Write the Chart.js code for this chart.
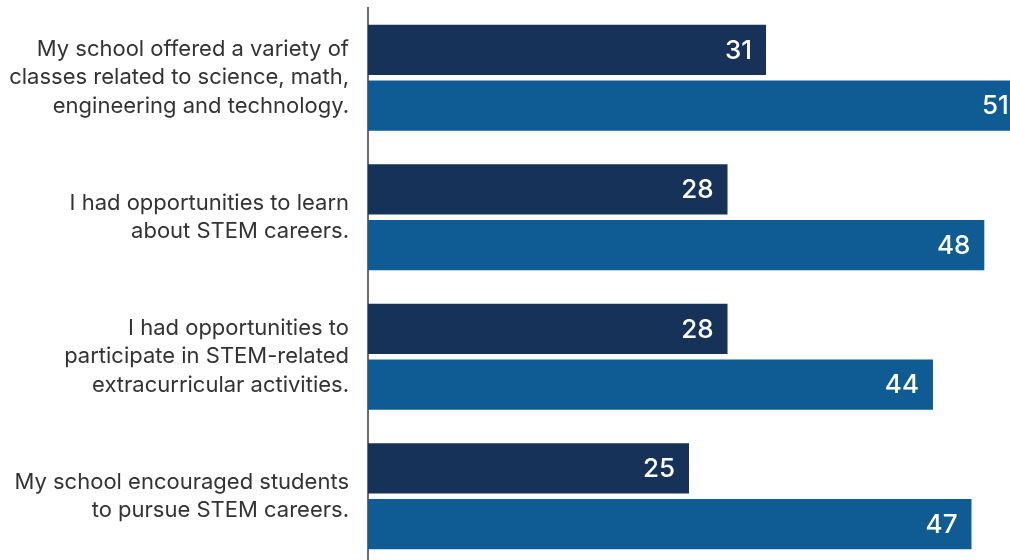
<!DOCTYPE html>
<html>
<head>
<meta charset="utf-8">
<script src="https://cdn.jsdelivr.net/npm/chart.js@4"></script>
<style>
	html, body { margin: 0; padding: 0; background: #fff; overflow: hidden; }
	#wrap { width: 1010px; height: 566px; }
</style>
</head>
<body>
<div id="wrap"><canvas id="chart" width="1010" height="566"></canvas></div>
<script>
const categories = [
	['My school offered a variety of', 'classes related to science, math,', 'engineering and technology.'],
	['I had opportunities to learn', 'about STEM careers.'],
	['I had opportunities to', 'participate in STEM-related', 'extracurricular activities.'],
	['My school encouraged students', 'to pursue STEM careers.'],
];
const seriesA = [31, 28, 28, 25];
const seriesB = [51, 48, 44, 47];

// white value labels just inside the end of each bar
const valueLabels = {
	id: 'valueLabels',
	afterDatasetsDraw(chart) {
		const ctx = chart.ctx;
		ctx.save();
		ctx.fillStyle = '#ffffff';
		ctx.font = '500 26px Inter';
		ctx.textAlign = 'right';
		ctx.textBaseline = 'middle';
		chart.data.datasets.forEach((ds, i) => {
			chart.getDatasetMeta(i).data.forEach((bar, j) => {
				const x = chart.scales.x.getPixelForValue(ds.data[j]);
				ctx.fillText(ds.data[j], x - 14, bar.y + 1);
			});
		});
		ctx.restore();
	}
};

const config = {
	type: 'bar',
	data: {
		labels: categories,
		datasets: [{
			data: seriesA,
			backgroundColor: '#163259',
		}, {
			data: seriesB,
			backgroundColor: '#0f5c94',
		}]
	},
	options: {
		indexAxis: 'y',
		responsive: false,
		animation: false,
		categoryPercentage: 0.8,
		barPercentage: 0.9,
		layout: { padding: { top: 8, right: 0, bottom: 0, left: 0 } },
		plugins: {
			legend: { display: false },
			tooltip: { enabled: false },
		},
		scales: {
			x: {
				display: false,
				min: 0,
				max: 50,
			},
			y: {
				grid: { display: false },
				border: { display: true, color: '#6b6b6b', width: 2 },
				ticks: {
					color: '#333333',
					padding: 11,
					font: { family: 'Inter', size: 22, lineHeight: 1.3 },
				},
				afterFit(scale) {
					scale.width = 368;
					scale.paddingTop = 0;
					scale.paddingBottom = 0;
				},
			}
		}
	},
	plugins: [valueLabels]
};

const myChart = new Chart(document.getElementById('chart'), config);
</script>
</body>
</html>
